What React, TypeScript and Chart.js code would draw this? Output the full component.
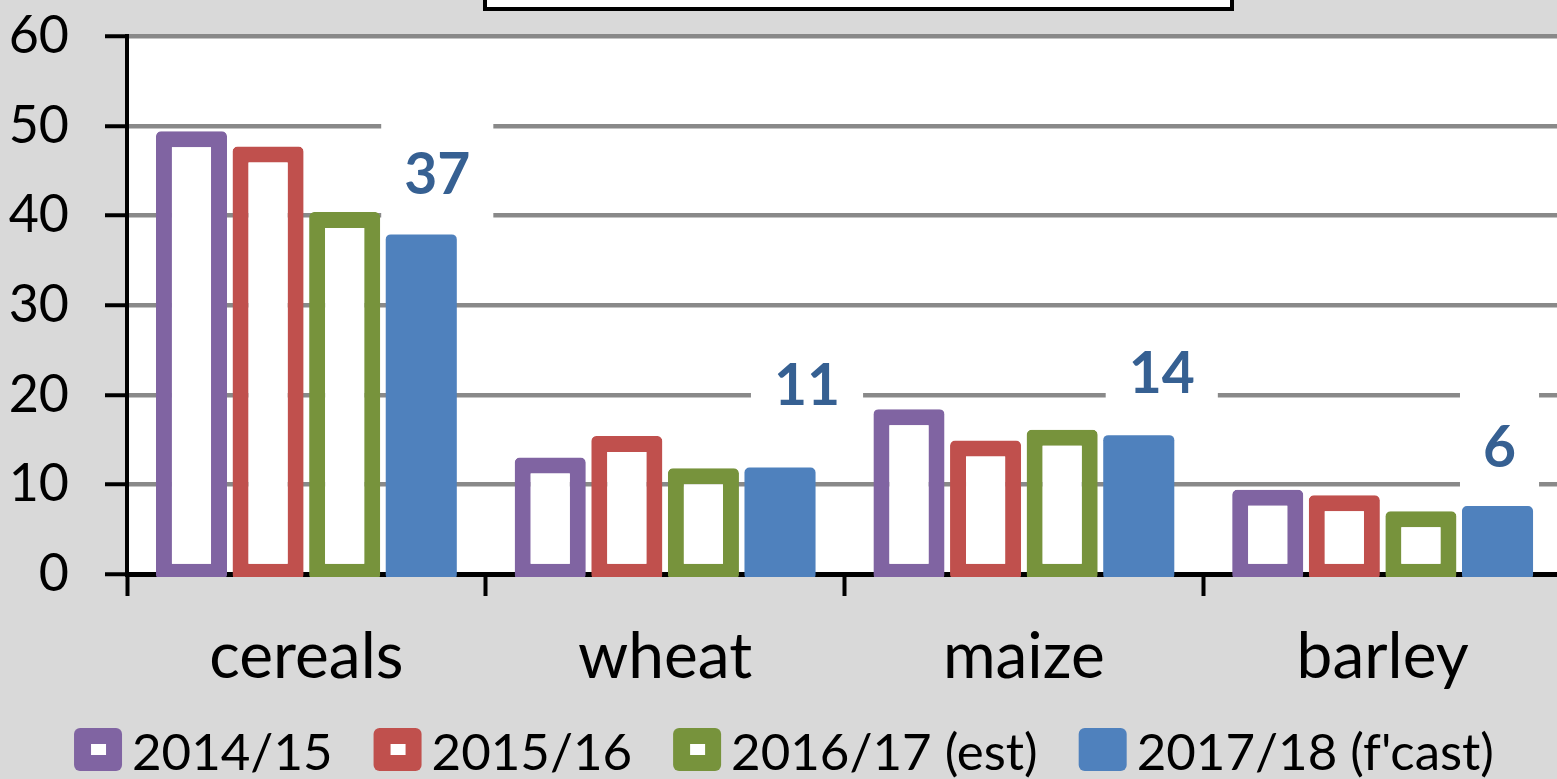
import React, { useEffect, useRef } from "react";
import { Chart, registerables } from "chart.js";

Chart.register(...registerables);

// ---------- data ----------
const categories = ["cereals", "wheat", "maize", "barley"];
const seriesNames = ["2014/15", "2015/16", "2016/17 (est)", "2017/18 (f'cast)"];
const values2014 = [48.5, 12.1, 17.5, 8.5];
const values2015 = [46.8, 14.5, 14.0, 7.9];
const values2016 = [39.5, 10.9, 15.2, 6.1];
const values2017 = [37.0, 11.0, 14.6, 6.7];
const forecastLabels = ["37", "11", "14", "6"];
const yMin = 0;
const yMax = 60;
const yStep = 10;

// ---------- styles ----------
const seriesColors = ["#8064A2", "#C0504D", "#77933C", "#4F81BD"];
const hollowSeries = [true, true, true, false];
const labelOffsets = [
  { dx: 16, dy: -69 },
  { dx: 27, dy: -91 },
  { dx: 23, dy: -71 },
  { dx: 2, dy: -67 },
];
const FONT = "Lato";
const BG = "#d9d9d9";
const BORDER_W = 16;

const seriesValues = [values2014, values2015, values2016, values2017];

const decorPlugin = {
  id: "decor",
  beforeDraw(chart: any) {
    const { ctx, chartArea } = chart;
    ctx.save();
    ctx.fillStyle = "#ffffff";
    ctx.fillRect(chartArea.left, chartArea.top, chartArea.right - chartArea.left, chartArea.bottom - chartArea.top);
    // partially visible title frame at the top
    ctx.fillStyle = "#ffffff";
    ctx.fillRect(485, -20, 747, 29);
    ctx.strokeStyle = "#000000";
    ctx.lineWidth = 4;
    ctx.strokeRect(485, -20, 747, 29);
    ctx.restore();
  },
  beforeDatasetsDraw(chart: any) {
    const half = BORDER_W / 2;
    chart.data.datasets.forEach((_: any, i: number) => {
      chart.getDatasetMeta(i).data.forEach((el: any) => {
        el.$saved = [el.y, el.base];
        el.y = el.y - half;
        el.base = el.base + half;
      });
    });
  },
  afterDatasetsDraw(chart: any) {
    chart.data.datasets.forEach((_: any, i: number) => {
      chart.getDatasetMeta(i).data.forEach((el: any) => {
        if (el.$saved) {
          el.y = el.$saved[0];
          el.base = el.$saved[1];
          delete el.$saved;
        }
      });
    });
    // data labels of the forecast series
    const { ctx } = chart;
    const meta = chart.getDatasetMeta(3);
    ctx.save();
    ctx.font = `bold 57px ${FONT}`;
    meta.data.forEach((el: any, j: number) => {
      const txt = forecastLabels[j];
      const off = labelOffsets[j];
      const cx = el.x + off.dx;
      const cy = el.y + off.dy;
      const tw = ctx.measureText(txt).width;
      const bw = tw + 46;
      const bh = 114;
      ctx.fillStyle = "#ffffff";
      ctx.fillRect(cx - bw / 2, cy - bh / 2, bw, bh);
      ctx.fillStyle = "#366092";
      ctx.textAlign = "center";
      ctx.textBaseline = "alphabetic";
      ctx.fillText(txt, cx, cy + 20.5);
    });
    ctx.restore();
  },
  afterDraw(chart: any) {
    const { ctx } = chart;
    ctx.save();
    ctx.font = `51px ${FONT}`;
    const boxW = 48;
    const boxH = 43;
    const gapBoxText = 10;
    const gapItems = 41;
    const widths = chart.data.datasets.map((ds: any) => boxW + gapBoxText + ctx.measureText(ds.label).width);
    const total = widths.reduce((a: number, b: number) => a + b, 0) + gapItems * (widths.length - 1);
    let x = 784 - total / 2;
    const top = 728;
    chart.data.datasets.forEach((ds: any, i: number) => {
      ctx.fillStyle = seriesColors[i];
      ctx.beginPath();
      (ctx as any).roundRect(x, top, boxW, boxH, 6);
      ctx.fill();
      if (hollowSeries[i]) {
        ctx.fillStyle = "#ffffff";
        ctx.fillRect(x + 17, top + 16, 15, 11);
      }
      ctx.fillStyle = "#000000";
      ctx.textAlign = "left";
      ctx.textBaseline = "alphabetic";
      ctx.fillText(ds.label, x + boxW + gapBoxText, 770);
      x += widths[i] + gapItems;
    });
    ctx.restore();
  },
};

export default function App() {
  const canvasRef = useRef<HTMLCanvasElement | null>(null);

  useEffect(() => {
    if (!canvasRef.current) return;
    const chart = new Chart(canvasRef.current, {
      type: "bar",
      data: {
        labels: categories,
        datasets: seriesNames.map((name, i) => ({
          label: name,
          data: seriesValues[i],
          backgroundColor: hollowSeries[i] ? "#ffffff" : seriesColors[i],
          borderColor: seriesColors[i],
          borderWidth: hollowSeries[i] ? BORDER_W : 0,
          borderSkipped: false,
          borderRadius: 5,
          categoryPercentage: 0.854,
          barPercentage: 0.928,
          clip: { left: 20, top: 20, right: 20, bottom: 3 },
        })),
      },
      options: {
        responsive: false,
        animation: false,
        devicePixelRatio: 1,
        layout: { padding: { left: 0, right: 38, top: 0, bottom: 0 } },
        plugins: {
          legend: { display: false },
          tooltip: { enabled: false },
          title: { display: false },
        },
        scales: {
          x: {
            z: 1,
            offset: true,
            grid: {
              offset: true,
              drawOnChartArea: false,
              drawTicks: true,
              tickLength: 22,
              tickColor: "#000000",
              tickWidth: 4,
              color: "#000000",
            },
            border: { display: true, color: "#000000", width: 5 },
            ticks: {
              color: "#000000",
              font: { family: FONT, size: 64 },
              padding: 23,
              maxRotation: 0,
            },
            afterFit: (scale: any) => {
              scale.height = 205;
            },
          },
          y: {
            min: yMin,
            max: yMax,
            grid: {
              color: "#898989",
              lineWidth: 4.5,
              drawTicks: true,
              tickLength: 22,
              tickColor: "#000000",
              tickWidth: 4,
            },
            border: { display: true, color: "#000000", width: 4 },
            ticks: {
              stepSize: yStep,
              color: "#000000",
              font: { family: FONT, size: 52, lineHeight: 0.01 },
              padding: 36,
            },
            afterFit: (scale: any) => {
              scale.width = 127;
            },
          },
        },
      },
      plugins: [decorPlugin],
    });
    return () => chart.destroy();
  }, []);

  return (
    <div
      style={{
        position: "fixed",
        left: 0,
        top: 0,
        width: 1557,
        height: 779,
        overflow: "hidden",
        background: BG,
      }}
    >
      <canvas ref={canvasRef} width={1600} height={779} style={{ width: 1600, height: 779, display: "block" }} />
    </div>
  );
}
